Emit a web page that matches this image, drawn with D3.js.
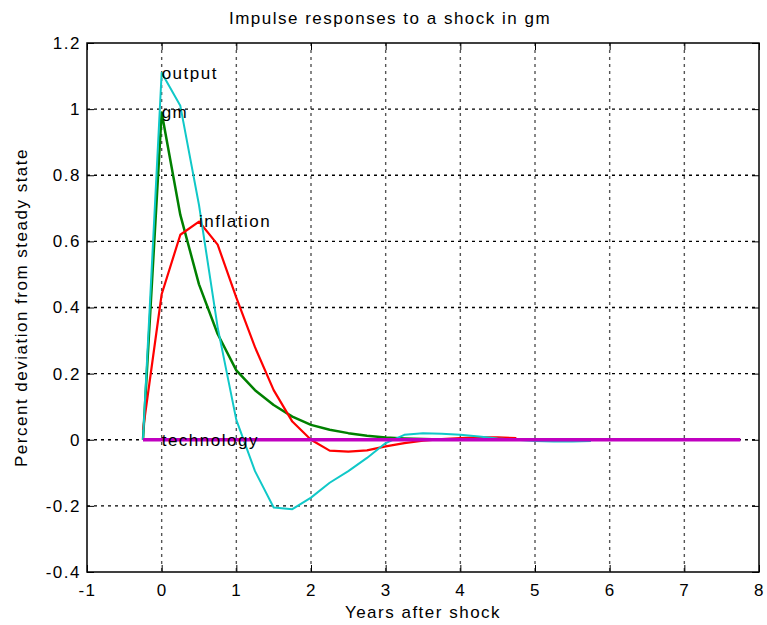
<!DOCTYPE html>
<html>
<head>
<meta charset="utf-8">
<script src="https://cdn.jsdelivr.net/npm/d3@7"></script>
<style>
  body { margin: 0; background: #fff; }
  text { font-family: "Liberation Sans", Arial, sans-serif; font-size: 17px; letter-spacing: 1.5px; fill: #000; }
</style>
</head>
<body>
<div id="chart-container"></div>
<script>
// Data (quarters after the shock, in years)
const years = [-0.25, 0, 0.25, 0.5, 0.75, 1, 1.25, 1.5, 1.75, 2, 2.25, 2.5, 2.75, 3, 3.25, 3.5,
               3.75, 4, 4.25, 4.5, 4.75, 5, 5.25, 5.5, 5.75, 6, 6.25, 6.5, 6.75, 7, 7.25, 7.5, 7.75];

const output = [0, 1.11, 1.01, 0.71, 0.34, 0.06, -0.095, -0.205, -0.21, -0.175, -0.13, -0.095, -0.055,
                -0.01, 0.015, 0.02, 0.018, 0.015, 0.01, 0.004, 0, -0.004, -0.005, -0.005, -0.004];
const inflation = [0.03, 0.44, 0.62, 0.66, 0.59, 0.43, 0.28, 0.15, 0.055, 0, -0.033, -0.036, -0.032,
                   -0.02, -0.01, -0.003, 0.002, 0.005, 0.007, 0.007, 0.005];
const gm = [0, 0.99, 0.68, 0.47, 0.32, 0.21, 0.15, 0.105, 0.07, 0.045, 0.03, 0.02, 0.012, 0.007,
            0.004, 0.002, 0.001];
const technology = [0, 0, 0, 0, 0, 0, 0, 0, 0, 0, 0, 0, 0, 0, 0, 0, 0, 0, 0, 0, 0, 0, 0, 0, 0, 0,
                    0, 0, 0, 0, 0, 0, 0];

// Series names and where their text label sits (data units)
const seriesNames = ["gm", "inflation", "output", "technology"];
const seriesValues = [gm, inflation, output, technology];
const labelX = [0, 0.5, 0, 0];
const labelY = [0.99, 0.66, 1.11, 0];

const xTicks = [-1, 0, 1, 2, 3, 4, 5, 6, 7, 8];
const yTicks = [-0.4, -0.2, 0, 0.2, 0.4, 0.6, 0.8, 1, 1.2];

const colors = {gm: "#008000", inflation: "#ff0000", output: "#10c8c8", technology: "#c000c0"};
const widths = {gm: 2.5, inflation: 2.2, output: 2, technology: 3.5};

// Set dimensions and margins for the chart
const margin = {top: 43, right: 8, bottom: 53, left: 87};
const width = 767 - margin.left - margin.right;
const height = 625 - margin.top - margin.bottom;

const x = d3.scaleLinear().domain([-1, 8]).range([0, width]);
const y = d3.scaleLinear().domain([-0.4, 1.2]).range([height, 0]);

const svg = d3.select("#chart-container")
    .append("svg")
        .attr("width", width + margin.left + margin.right)
        .attr("height", height + margin.top + margin.bottom)
    .append("g")
        .attr("transform", `translate(${margin.left},${margin.top})`);

// Dotted grid lines
svg.selectAll(".xGrid")
    .data(xTicks.slice(1, -1))
    .join("line")
    .attr("x1", d => x(d)).attr("x2", d => x(d))
    .attr("y1", 0).attr("y2", height)
    .attr("stroke", "#555")
    .attr("stroke-width", 1.4)
    .attr("stroke-dasharray", "3,4");

svg.selectAll(".yGrid")
    .data(yTicks.slice(1, -1))
    .join("line")
    .attr("x1", 0).attr("x2", width)
    .attr("y1", d => y(d)).attr("y2", d => y(d))
    .attr("stroke", "#000")
    .attr("stroke-width", 1.4)
    .attr("stroke-dasharray", "3,4");

// matlab style labels: plain hyphen for minus
const fmt = d => String(+d.toFixed(1));

// Axes (ticks point inwards like matlab)
const xAxis = d3.axisBottom(x).tickValues(xTicks).tickFormat(fmt).tickSizeInner(-7).tickSizeOuter(0).tickPadding(12);
const yAxis = d3.axisLeft(y).tickValues(yTicks).tickFormat(fmt).tickSizeInner(-7).tickSizeOuter(0).tickPadding(6);

svg.append("g").attr("transform", `translate(0,${height})`).call(xAxis);
svg.append("g").call(yAxis);
svg.append("g").call(d3.axisTop(x).tickValues(xTicks).tickSizeInner(-7).tickSizeOuter(0).tickFormat(""));
svg.append("g").attr("transform", `translate(${width},0)`)
    .call(d3.axisRight(y).tickValues(yTicks).tickSizeInner(-7).tickSizeOuter(0).tickFormat(""));

svg.selectAll(".domain").remove();
svg.selectAll(".tick line").attr("stroke", "#000");
svg.selectAll(".tick text").style("font-size", "17px").attr("fill", "#000");

// Box
svg.append("rect")
    .attr("width", width).attr("height", height)
    .attr("fill", "none").attr("stroke", "#000").attr("stroke-width", 1.5);

// Lines
const line = d3.line()
    .x(d => x(d[0]))
    .y(d => y(d[1]));

seriesNames.forEach((name, i) => {
    const vals = seriesValues[i];
    svg.append("path")
        .datum(vals.map((v, j) => [years[j], v]))
        .attr("fill", "none")
        .attr("stroke", colors[name])
        .attr("stroke-width", widths[name])
        .attr("stroke-linejoin", "round")
        .attr("d", line);
});

// Labels on the curves
seriesNames.forEach((name, i) => {
    svg.append("text")
        .attr("x", x(labelX[i]))
        .attr("y", y(labelY[i]))
        .attr("dy", "0.35em")
        .text(name);
});

// Title (centred on the figure, not the axes) and axis labels
svg.append("text")
    .attr("x", 390 - margin.left).attr("y", -19)
    .attr("text-anchor", "middle")
    .text("Impulse responses to a shock in gm");

svg.append("text")
    .attr("x", width / 2).attr("y", height + 46)
    .attr("text-anchor", "middle")
    .text("Years after shock");

svg.append("text")
    .attr("transform", `translate(${-60},${height / 2}) rotate(-90)`)
    .attr("text-anchor", "middle")
    .text("Percent deviation from steady state");
</script>
</body>
</html>
